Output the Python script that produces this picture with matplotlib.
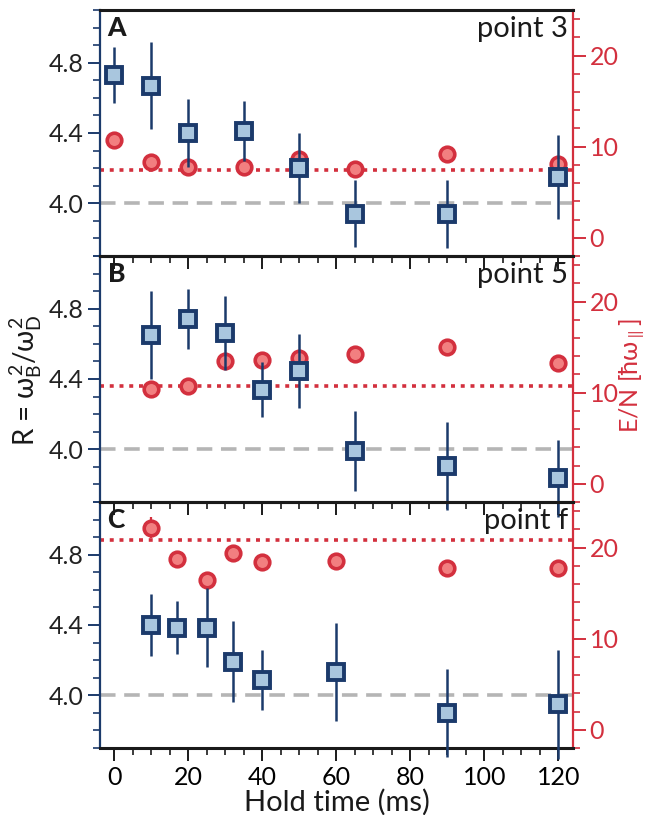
import numpy as np
import matplotlib
matplotlib.use('Agg')

import matplotlib.pyplot as plt
from matplotlib.ticker import MultipleLocator

FONT = ['DejaVu Sans Condensed', 'Lato', 'DejaVu Sans']
plt.rcParams['font.family'] = FONT
plt.rcParams['mathtext.fontset'] = 'custom'
plt.rcParams['mathtext.rm'] = 'Lato'
plt.rcParams['mathtext.it'] = 'Lato'
plt.rcParams['mathtext.bf'] = 'Lato:bold'

BLUE = '#1b3a6b'
LBLUE = '#a9c6de'
RED = '#d3303e'
LRED = '#f27f80'
GRAY = '#b5b5b5'

# panel A  (point 3)
tA = [0, 10, 20, 35, 50, 65, 90, 120]
rA = [4.73, 4.67, 4.40, 4.41, 4.20, 3.94, 3.94, 4.15]
rA_err = [0.16, 0.25, 0.195, 0.17, 0.20, 0.19, 0.195, 0.24]
eA = [10.7, 8.3, 7.8, 7.8, 8.6, 7.5, 9.2, 8.1]
eA_err = [0, 0, 0, 0, 0, 0, 0, 0]
eA_ref = 7.45

# panel B  (point 5)
tB = [10, 20, 30, 40, 50, 65, 90, 120]
rB = [4.65, 4.74, 4.66, 4.34, 4.445, 3.99, 3.905, 3.835]
rB_err = [0.25, 0.17, 0.21, 0.155, 0.21, 0.23, 0.25, 0.22]
eB = [10.4, 10.7, 13.5, 13.6, 13.8, 14.2, 15.0, 13.3]
eB_err = [0, 0, 0, 0, 0, 0, 0, 0]
eB_ref = 10.75

# panel C  (point f)
tC = [10, 17, 25, 32, 40, 60, 90, 120]
rC = [4.40, 4.385, 4.385, 4.19, 4.086, 4.133, 3.90, 3.95]
rC_err = [0.175, 0.15, 0.225, 0.23, 0.17, 0.28, 0.25, 0.31]
eC = [22.2, 18.7, 16.4, 19.4, 18.4, 18.5, 17.8, 17.8]
eC_err = [1.1, 0, 0, 0, 0, 0, 0, 0]
eC_ref = 20.8

panels = [
    ('A', 'point 3', tA, rA, rA_err, eA, eA_err, eA_ref),
    ('B', 'point 5', tB, rB, rB_err, eB, eB_err, eB_ref),
    ('C', 'point f', tC, rC, rC_err, eC, eC_err, eC_ref),
]

W, H = 647, 815
fig = plt.figure(figsize=(W / 100, H / 100), dpi=100)

left = 100 / W
width = (573 - 100) / W
tops = [10, 256, 502]
ph = 246

for i, (letter, name, t, r, r_err, e, e_err, e_ref) in enumerate(panels):
    y0 = 1 - (tops[i] + ph) / H
    ax = fig.add_axes([left, y0, width, ph / H])
    ax2 = ax.twinx()
    ax.set_zorder(ax2.get_zorder() + 1)
    ax.patch.set_visible(False)

    # energy per particle (right axis)
    ax2.axhline(e_ref, color=RED, lw=2.6, ls=(0, (1.1, 1.6)), zorder=1)
    ax2.errorbar(t, e, yerr=e_err, fmt='o', ms=10.5, mfc=LRED, mec=RED,
                 mew=2.6, ecolor=RED, elinewidth=1.6, capsize=0, zorder=2)
    ax2.set_ylim(-2, 25)
    ax2.yaxis.set_major_locator(MultipleLocator(10))
    ax2.yaxis.set_minor_locator(MultipleLocator(2))
    ax2.tick_params(axis='y', which='major', direction='out', length=9,
                    width=1.4, color=RED, labelcolor=RED, labelsize=18, pad=3)
    ax2.tick_params(axis='y', which='minor', direction='out', length=5,
                    width=1.2, color=RED)
    for s in ax2.spines.values():
        s.set_visible(False)

    # ratio R (left axis)
    ax.axhline(4.0, color=GRAY, lw=2.6, ls=(0, (4.3, 2.4)), zorder=1)
    ax.errorbar(t, r, yerr=r_err, fmt='s', ms=11.5, mfc=LBLUE, mec=BLUE,
                mew=2.8, ecolor=BLUE, elinewidth=1.8, capsize=0, zorder=3,
                clip_on=False)
    ax.set_ylim(3.7, 5.1)
    ax.set_xlim(-3.9, 124)
    ax.yaxis.set_major_locator(MultipleLocator(0.4))
    ax.yaxis.set_minor_locator(MultipleLocator(0.1))
    ax.xaxis.set_major_locator(MultipleLocator(20))
    ax.xaxis.set_minor_locator(MultipleLocator(5))
    ax.set_yticks([4.0, 4.4, 4.8])
    ax.set_yticklabels(['4.0', '4.4', '4.8'])
    ax.tick_params(axis='y', which='major', direction='out', length=9,
                   width=1.4, color=BLUE, labelcolor='#222222', labelsize=18,
                   pad=3)
    ax.tick_params(axis='y', which='minor', direction='out', length=5,
                   width=1.2, color=BLUE)
    ax.tick_params(axis='x', which='major', direction='out', length=9,
                   width=1.4, color='#1a1a1a', labelsize=18, pad=4)
    ax.tick_params(axis='x', which='minor', direction='out', length=5,
                   width=1.2, color='#1a1a1a')
    if i < 2:
        ax.tick_params(axis='x', labelbottom=False)

    ax.spines['left'].set_color(BLUE)
    ax.spines['right'].set_color(RED)
    ax.spines['top'].set_color('#1a1a1a')
    ax.spines['bottom'].set_color('#1a1a1a')
    for s in ax.spines.values():
        s.set_linewidth(1.6)
    ax.spines['top'].set_linewidth(2.2)
    ax.spines['bottom'].set_linewidth(2.2)

    ax.text(0.016, 0.975, letter, transform=ax.transAxes, ha='left', va='top',
            fontsize=19, fontweight='black', color='#1a1a1a')
    ax.text(0.99, 0.975, name, transform=ax.transAxes, ha='right', va='top',
            fontsize=21, color='#1a1a1a')

    if i == 2:
        ax.set_xlabel('Hold time (ms)', fontsize=21, color='#1a1a1a',
                      labelpad=0)

fig.text(26 / W, 1 - 380 / H, r'R = $\omega_B^2/\omega_D^2$', rotation=90,
         ha='center', va='center', fontsize=20, color='#1a1a1a')
fig.text(632 / W, 1 - 376 / H, r'E/N [ħ$\omega_{\parallel}$]', rotation=90,
         ha='center', va='center', fontsize=18, color=RED)

fig.savefig('out.png', dpi=100)
